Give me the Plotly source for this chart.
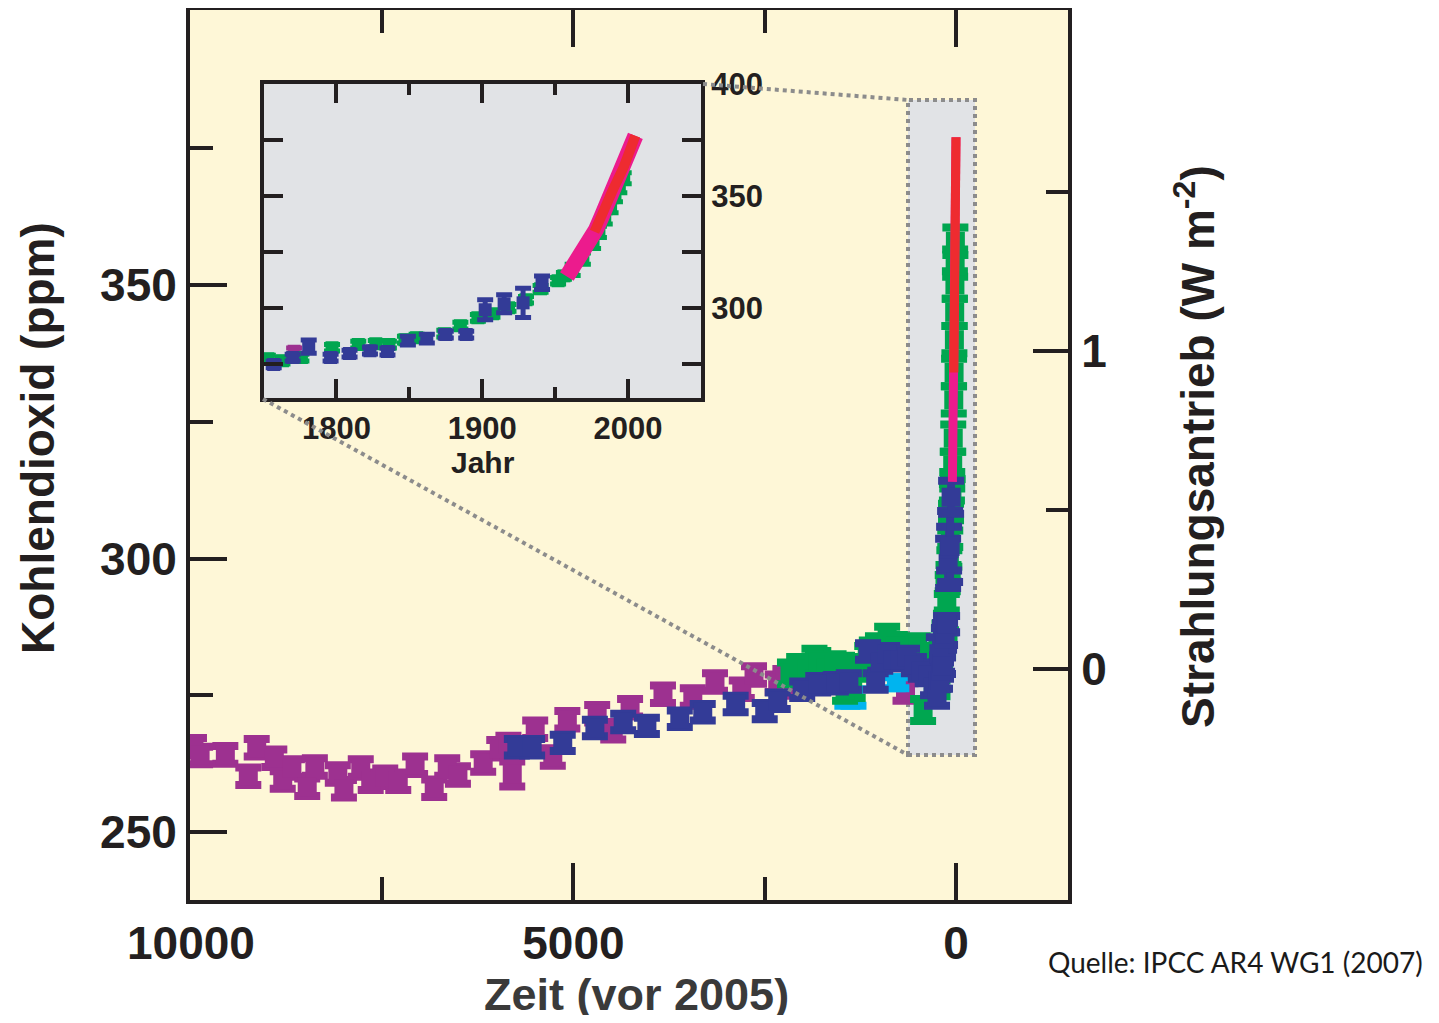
import plotly.graph_objects as go

# ---------------- data ----------------
# Long record: x = years before 2005, CO2 in ppm, +/- error
purple_bp = [9960, 9880, 9550, 9250, 9140, 8910, 8800, 8680, 8480, 8380, 8080, 8000,
             7780, 7650, 7460, 7290, 7070, 6820, 6650, 6510, 6180, 5970, 5850, 5800,
             5500, 5270, 5080, 4690, 4480, 4260, 3830, 3440, 3150, 2800, 2640, 2330,
             2230, 2050, 660]
purple_co2 = [265.6, 264.0, 264.1, 260.2, 265.4, 263.5, 259.5, 261.7, 258.2, 261.9, 260.6, 257.9,
              261.7, 259.3, 260.0, 259.3, 262.2, 258.0, 261.9, 260.4, 262.6, 265.2, 266.0, 260.6,
              268.8, 263.7, 270.5, 271.6, 268.5, 272.7, 275.2, 274.7, 277.4, 276.1, 278.7, 277.2,
              278.2, 276.5, 275.6]
purple_err = [1.6] * 23 + [2.3] + [1.6] * 15
purple_year = [1771]
purple_year_co2 = [280.5]
purple_year_err = [1.5]

blue_bp = [5740, 5540, 5140, 4720, 4350, 4040, 3610, 3310, 2880, 2500, 2330, 2010, 1800,
           1570, 1400, 1150, 1050, 990, 900, 820, 730, 640, 550, 460, 370, 300]
blue_co2 = [265.5, 265.5, 266.3, 269.0, 270.1, 269.4, 270.7, 271.9, 273.4, 272.1, 274.0, 276.0, 277.0,
            277.2, 277.5, 283.0, 277.5, 281.0, 282.5, 281.5, 281.4, 282.0, 280.5, 279.5, 278.7, 276.5]
blue_err = [1.5] * 26
blue_year = [1757, 1770, 1781, 1796, 1809, 1823, 1835, 1849, 1862, 1875, 1889, 1902, 1915, 1928, 1941]
blue_year_co2 = [274.6, 277.7, 282.6, 277.7, 279.5, 280.8, 280.4, 285.3, 286.2, 288.0, 288.0,
                 299.1, 301.8, 302.2, 311.2]
blue_year_err = [1.5, 1.5, 3.0, 1.5, 1.5, 1.5, 1.5, 2.0, 2.0, 1.5, 1.5, 4.5, 4.0, 6.5, 3.0]

green_bp = [2170, 2050, 1950, 1850, 1800, 1700, 1600, 1490, 1450, 1350, 1250, 1160, 1100,
            1020, 900, 800, 700, 600, 500, 430, 350, 300]
green_co2 = [279.0, 280.0, 279.8, 281.5, 281.1, 280.0, 280.5, 280.2, 276.0, 276.5, 280.0, 282.0, 283.0,
             283.8, 285.5, 284.0, 283.0, 283.0, 283.8, 272.3, 282.0, 280.0]
green_err = [2.0] * 22
green_year = [1753, 1763, 1776, 1797, 1815, 1827, 1836, 1847, 1855, 1874, 1885, 1897, 1907,
              1918, 1930, 1940, 1952, 1956, 1962, 1969, 1976, 1980, 1984, 1988, 1991, 1994, 1997]
green_year_co2 = [277.2, 276.3, 277.7, 282.1, 283.5, 283.9, 283.5, 285.7, 286.6, 288.4, 292.0, 295.5, 297.3,
                  300.0, 303.6, 308.5, 312.1, 314.3, 317.0, 322.0, 329.0, 334.0, 340.0, 345.0, 350.0, 354.0, 358.0]
green_year_err = [1.5] * 18 + [2.5] * 9

cyan_bp = [1420, 1340, 780]
cyan_co2 = [274.6, 274.6, 277.3]
cyan_err = [1.5, 1.5, 1.0]

pink_year = [1958, 1962, 1966, 1970, 1974, 1978, 1982, 1986, 1990, 1994, 1998, 2002, 2005]
pink_co2 = [314, 318, 321, 325, 330, 335, 341, 347, 354, 358, 366, 372, 377]

red_year = [1977, 1981, 1985, 1989, 1993, 1997, 2001, 2005]
red_co2 = [334, 339, 346, 352, 357, 363, 370, 377]

main_x_ticks = [10000, 5000, 0]
main_x_minor = [7500, 2500]
main_y_ticks = [250, 300, 350]
main_y_minor = [275, 325, 375]
forcing_ticks = [0, 1]
forcing_minor = [0.5, 1.5]
inset_x_ticks = [1800, 1900, 2000]
inset_x_minor = [1850, 1950]
inset_y_ticks = [300, 350, 400]
inset_y_minor = [275, 325, 375]

REF_YEAR = 2005

# ---------------- styling ----------------
C_PURPLE = "#9d3190"
C_BLUE = "#333b97"
C_GREEN = "#00a650"
C_CYAN = "#00b4ef"
C_PINK = "#ec1b8d"
C_RED = "#ee2b30"
C_FRAME = "#231f20"
C_CREAM = "#fef7d7"
C_GRAY = "#e1e3e6"
C_DOT = "#8c8c8c"
FONT = "Liberation Sans"

# page offset caused by the default body margin of the html page
OFF = 8
# plot area in page pixels
L, T, W, H = 190, 10, 878, 890
FIG_W, FIG_H = 1439 - OFF, 1023 - 2 * OFF


def px(xp):
    return (xp - L) / W


def py(yp):
    return (T + H - yp) / H


fig = go.Figure()


def err_trace(x, y, e, color, xa, ya, msize, thick, capw):
    return go.Scatter(
        x=x, y=y, mode="markers", xaxis=xa, yaxis=ya,
        marker=dict(symbol="square", size=msize, color=color, line=dict(width=0)),
        error_y=dict(type="data", array=e, visible=True, thickness=thick, width=capw, color=color),
        showlegend=False, hoverinfo="x+y",
    )


series = [
    (purple_bp, purple_co2, purple_err, purple_year, purple_year_co2, purple_year_err, C_PURPLE),
    (cyan_bp, cyan_co2, cyan_err, [], [], [], C_CYAN),
    (green_bp, green_co2, green_err, green_year, green_year_co2, green_year_err, C_GREEN),
    (blue_bp, blue_co2, blue_err, blue_year, blue_year_co2, blue_year_err, C_BLUE),
]

# main panel
for bp, co2, err, yr, yco2, yerr, col in series:
    x = list(bp) + [REF_YEAR - v for v in yr]
    fig.add_trace(err_trace(x, list(co2) + list(yco2), list(err) + list(yerr), col, "x", "y", 19, 8, 13))
fig.add_trace(go.Scatter(x=[REF_YEAR - v for v in pink_year], y=pink_co2, mode="lines",
                         line=dict(color=C_PINK, width=9), showlegend=False, xaxis="x", yaxis="y"))
fig.add_trace(go.Scatter(x=[REF_YEAR - v for v in red_year], y=red_co2, mode="lines",
                         line=dict(color=C_RED, width=9), showlegend=False, xaxis="x", yaxis="y"))
# empty trace so the right-hand forcing axis is drawn
fig.add_trace(go.Scatter(x=[None], y=[None], xaxis="x", yaxis="y2", showlegend=False, hoverinfo="skip"))

# inset panel
for bp, co2, err, yr, yco2, yerr, col in series:
    x = [REF_YEAR - v for v in bp] + list(yr)
    fig.add_trace(err_trace(x, list(co2) + list(yco2), list(err) + list(yerr), col, "x3", "y3", 13, 5, 8))
fig.add_trace(go.Scatter(x=pink_year, y=pink_co2, mode="lines", line=dict(color=C_PINK, width=16),
                         showlegend=False, xaxis="x3", yaxis="y3"))
fig.add_trace(go.Scatter(x=red_year, y=red_co2, mode="lines", line=dict(color=C_RED, width=10),
                         showlegend=False, xaxis="x3", yaxis="y3"))

tick_font = dict(family=FONT, size=46, color=C_FRAME, weight="bold")
inset_font = dict(family=FONT, size=31, color=C_FRAME, weight="bold")

# inset domain in px
IX0, IX1, IY0, IY1 = 263.5, 701, 84, 398

fig.update_layout(
    template="none",
    width=FIG_W, height=FIG_H,
    margin=dict(l=L - OFF, r=FIG_W - (L - OFF) - W, t=T - OFF, b=FIG_H - (T - OFF) - H, pad=0),
    paper_bgcolor="white", plot_bgcolor="rgba(0,0,0,0)",
    showlegend=False,
    xaxis=dict(
        range=[10012, -1464], domain=[0, 1], anchor="y", automargin=False,
        tickmode="array", tickvals=main_x_ticks, ticktext=[str(v) for v in main_x_ticks],
        ticks="inside", ticklen=37, tickwidth=4, tickcolor=C_FRAME,
        minor=dict(tickmode="array", tickvals=main_x_minor, ticks="inside", ticklen=23,
                   tickwidth=4, tickcolor=C_FRAME, showgrid=False),
        showline=True, linewidth=4, linecolor=C_FRAME, mirror="ticks",
        showgrid=False, zeroline=False, tickfont=tick_font,
    ),
    yaxis=dict(
        range=[237.57, 400.27], domain=[0, 1], anchor="x", automargin=False,
        tickmode="array", tickvals=main_y_ticks,
        ticks="inside", ticklen=37, tickwidth=4, tickcolor=C_FRAME,
        minor=dict(tickmode="array", tickvals=main_y_minor, ticks="inside", ticklen=23,
                   tickwidth=4, tickcolor=C_FRAME, showgrid=False),
        showline=True, linewidth=4, linecolor=C_FRAME, mirror=False,
        showgrid=False, zeroline=False, tickfont=tick_font,
    ),
    yaxis2=dict(
        range=[-0.726, 2.072], overlaying="y", side="right", anchor="x", automargin=False,
        tickmode="array", tickvals=forcing_ticks,
        ticks="inside", ticklen=35, tickwidth=4, tickcolor=C_FRAME,
        minor=dict(tickmode="array", tickvals=forcing_minor, ticks="inside", ticklen=22,
                   tickwidth=4, tickcolor=C_FRAME, showgrid=False),
        showline=True, linewidth=4, linecolor=C_FRAME,
        showgrid=False, zeroline=False, tickfont=tick_font,
    ),
    xaxis3=dict(
        range=[1750, 2050], domain=[px(IX0), px(IX1)], anchor="y3", automargin=False,
        tickmode="array", tickvals=inset_x_ticks,
        ticks="inside", ticklen=19, tickwidth=4, tickcolor=C_FRAME,
        minor=dict(tickmode="array", tickvals=inset_x_minor, ticks="inside", ticklen=11,
                   tickwidth=4, tickcolor=C_FRAME, showgrid=False),
        showline=True, linewidth=4, linecolor=C_FRAME, mirror="ticks",
        showgrid=False, zeroline=False, tickfont=inset_font,
    ),
    yaxis3=dict(
        range=[259.6, 400.2], domain=[py(IY1), py(IY0)], anchor="x3", side="right", automargin=False,
        tickmode="array", tickvals=inset_y_ticks,
        ticks="inside", ticklen=19, tickwidth=4, tickcolor=C_FRAME,
        minor=dict(tickmode="array", tickvals=inset_y_minor, ticks="inside", ticklen=19,
                   tickwidth=4, tickcolor=C_FRAME, showgrid=False),
        showline=True, linewidth=4, linecolor=C_FRAME, mirror="ticks",
        showgrid=False, zeroline=False, tickfont=inset_font,
    ),
)

shapes = [
    dict(type="rect", xref="paper", yref="paper", x0=0, x1=1, y0=0, y1=1,
         fillcolor=C_CREAM, line=dict(width=0), layer="below"),
    dict(type="rect", xref="paper", yref="paper", x0=px(IX0), x1=px(IX1), y0=py(IY1), y1=py(IY0),
         fillcolor=C_GRAY, line=dict(width=0), layer="below"),
    dict(type="rect", xref="paper", yref="paper", x0=px(908), x1=px(975), y0=py(755), y1=py(100),
         fillcolor=C_GRAY, line=dict(color=C_DOT, width=4, dash="dot"), layer="below"),
    dict(type="line", xref="paper", yref="paper", x0=px(703), y0=py(84), x1=px(908), y1=py(100),
         line=dict(color=C_DOT, width=4, dash="dot"), layer="above"),
    dict(type="line", xref="paper", yref="paper", x0=px(263), y0=py(399), x1=px(908), y1=py(755),
         line=dict(color=C_DOT, width=4, dash="dot"), layer="above"),
]
fig.update_layout(shapes=shapes)

title_font = dict(family=FONT, size=46, color=C_FRAME, weight="bold")
annotations = [
    dict(text="Kohlendioxid (ppm)", xref="paper", yref="paper", x=px(38), y=py(438),
         textangle=-90, showarrow=False, font=title_font, xanchor="center", yanchor="middle"),
    dict(text="Strahlungsantrieb (W m<sup>-2</sup>)", xref="paper", yref="paper", x=px(1195), y=py(447),
         textangle=-90, showarrow=False, font=title_font, xanchor="center", yanchor="middle"),
    dict(text="Zeit (vor 2005)", xref="paper", yref="paper", x=px(636), y=py(994),
         showarrow=False, font=dict(family=FONT, size=45, color="#3a3a3a", weight="bold"),
         xanchor="center", yanchor="middle", borderpad=0),
    dict(text="Jahr", xref="paper", yref="paper", x=px(483), y=py(462),
         showarrow=False, font=dict(family=FONT, size=30, color=C_FRAME, weight="bold"),
         xanchor="center", yanchor="middle"),
    dict(text="Quelle: IPCC AR4 WG1 (2007)", xref="paper", yref="paper", x=px(1425), y=py(962),
         showarrow=False, font=dict(family="Lato", size=28, color="#1a1a1a"),
         xanchor="right", yanchor="middle"),
]
fig.update_layout(annotations=annotations)

fig.write_html("out.html")
